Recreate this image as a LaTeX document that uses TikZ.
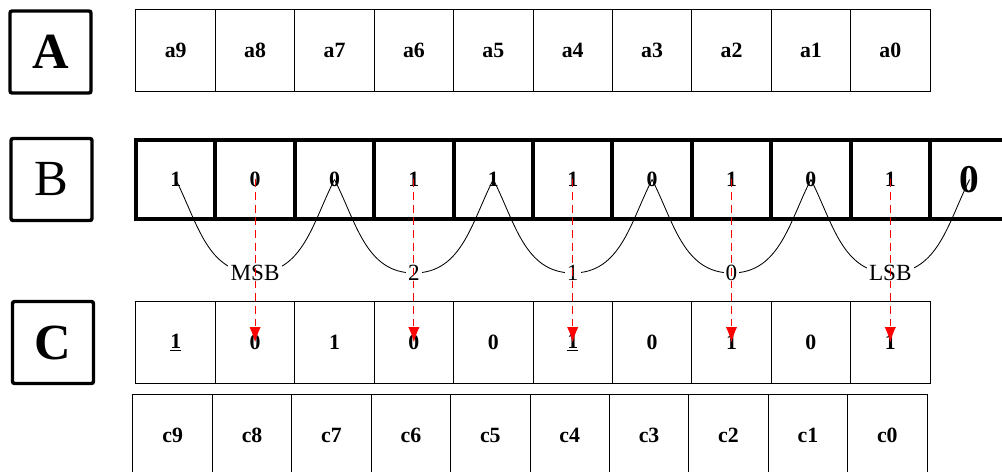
\documentclass[tikz,border=0pt]{standalone}
\usepackage{fontspec}
\setmainfont{Liberation Serif}
\usetikzlibrary{arrows.meta}

\begin{document}
\begin{tikzpicture}[x=0.025cm,y=-0.025cm,>=Latex,
  cell/.style={draw,line width=0.7pt,minimum width=1.985cm,minimum height=2.025cm,
    inner sep=0pt,font=\fontsize{15.5}{18}\selectfont\bfseries},
  bitcell/.style={cell,line width=2.8pt,minimum height=1.975cm},
  rowtag/.style={draw,line width=2.4pt,rounded corners=1.5pt,minimum width=2.025cm,
    minimum height=2.05cm,inner sep=0pt,font=\fontsize{36}{40}\selectfont},
  weight/.style={fill=white,inner sep=1.5pt,font=\fontsize{16.5}{20}\selectfont},
  pair/.style={line width=0.6pt},
  copybit/.style={->,red,dash pattern=on 5.5pt off 3.5pt,line width=0.7pt,
    >={Latex[length=11pt,width=8pt]}}]
  \useasboundingbox (0,0) rectangle (1002,472);
  \clip (0,0) rectangle (1002,472);
  \def\cw{79.4}  % cell width (px)
  \def\xa{136}   % left edge of rows A, B, C
  \def\xc{133}   % left edge of the c row
  % row tags
  \node[rowtag] (tagA) at (50.5,52)    {\bfseries A};
  \node[rowtag] (tagB) at (51.5,179.5) {B};
  \node[rowtag] (tagC) at (53,342.5)   {\bfseries C};
  % row A
  \foreach \v [count=\i from 0] in {9,8,7,6,5,4,3,2,1,0}
    \node[cell] (a\v) at ({\xa+\cw*(\i+0.5)},50.5) {a\v};
  % row B (bits)
  \foreach \b [count=\i from 0] in {1,0,0,1,1,1,0,1,0,1}
    \node[bitcell] (b\i) at ({\xa+\cw*(\i+0.5)},179.5) {\b};
  \node[bitcell,font=\fontsize{28}{30}\selectfont\bfseries] (b10) at ({\xa+\cw*10.5},179.5) {0};
  % row C (result bits)
  \foreach \b [count=\i from 0] in {\underline{1},0,1,0,0,\underline{1},0,1,0,1}
    \node[cell] (r\i) at ({\xa+\cw*(\i+0.5)},342.5) {\b};
  % c row
  \foreach \v [count=\i from 0] in {9,8,7,6,5,4,3,2,1,0}
    \node[cell] (c\v) at ({\xc+\cw*(\i+0.5)},435.5) {c\v};
  % bit pairs and their weights
  \foreach \k in {0,...,4}{
    \pgfmathtruncatemacro\l{2*\k}
    \pgfmathtruncatemacro\r{2*\k+2}
    \coordinate (m\k) at ({\xa+\cw*(2*\k+1.5)},273);
    \draw[pair] (b\l.center) to[out=-63,in=180] (m\k) to[out=0,in=-117] (b\r.center);
  }
  \foreach \w [count=\k from 0] in {MSB,2,1,0,LSB}
    \node[weight] (w\k) at (m\k) {\w};
  % copied bits
  \foreach \i in {1,3,5,7,9}
    \draw[copybit] (b\i.center) -- (r\i.center);
\end{tikzpicture}
\end{document}
